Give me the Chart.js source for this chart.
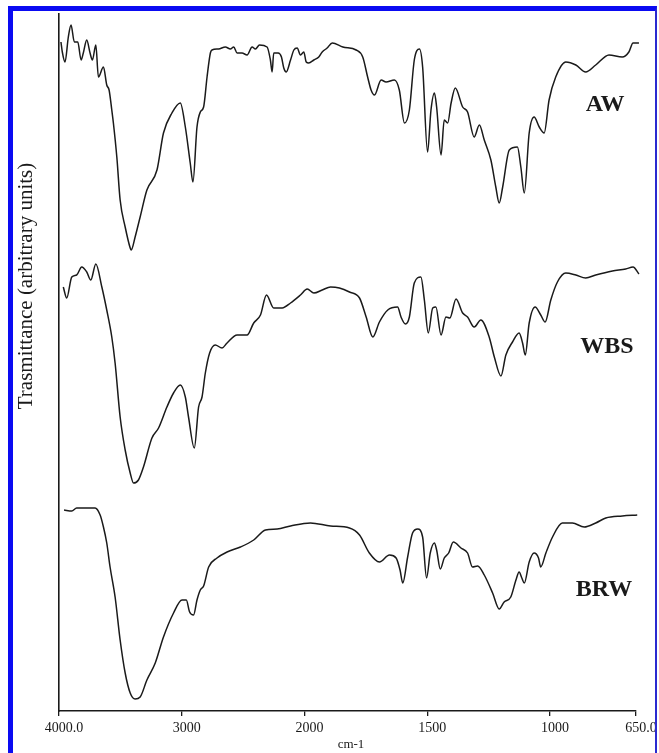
<!DOCTYPE html>
<html>
<head>
<meta charset="utf-8">
<title>FTIR spectra</title>
<script src="https://cdn.jsdelivr.net/npm/chart.js@4.4.1/dist/chart.umd.min.js"></script>
<style>
  html, body { margin: 0; padding: 0; background: #ffffff; }
  #wrap { position: relative; width: 659px; height: 753px; overflow: hidden; }
  #spectra { position: absolute; left: 0; top: 0; }
  #frame {
    position: absolute; left: 8px; top: 6px; width: 642px; height: 800px;
    border-top: 5px solid #0a0af2; border-left: 5px solid #0a0af2; border-right: 2px solid #2a2ad0;
    pointer-events: none;
  }
</style>
</head>
<body>
<div id="wrap">
  <canvas id="spectra" width="659" height="753"></canvas>
  <div id="frame"></div>
</div>
<script>
// Spectra: wavenumber (cm-1) and transmittance (arbitrary units, stacked)
const awWavenumber = [3984,3973,3951,3924,3902,3875,3847,3820,3802,3774,3747,3728,3700,3679,3638,3611,3592,3570,3557,3529,3502,3461,3420,3412,3380,3339,3284,3202,3149,3080,3012,2971,2931,2909,2876,2849,2822,2794,2767,2754,2700,2645,2604,2577,2549,2509,2468,2427,2400,2367,2305,2278,2264,2251,2215,2188,2169,2149,2114,2087,2060,2033,2006,1993,1983,1962,1942,1928,1908,1887,1844,1790,1763,1743,1729,1715,1688,1668,1634,1614,1593,1573,1553,1532,1519,1499,1485,1471,1462,1444,1431,1417,1403,1386,1356,1336,1309,1288,1268,1241,1221,1207,1193,1166,1133,1119,1105,1085,1065,1044,1024,1004,977,936,895,855,814,760,706,679,662,638];
const awTransmittance = [669,659,649,674,686,669,669,651,658,671,658,651,666,634,644,626,621,601,588,554,511,484,463,461,474,494,521,541,578,598,608,584,548,529,584,599,604,634,658,661,662,664,662,664,658,658,656,664,662,666,664,651,639,658,658,654,643,639,651,661,663,656,659,649,648,651,654,659,663,668,664,661,654,634,621,616,631,629,631,621,588,601,651,662,644,559,601,618,604,556,591,588,608,623,604,599,574,586,571,551,524,508,524,561,564,544,518,578,594,584,578,611,634,649,646,639,646,656,654,659,668,668];

const wbsWavenumber = [3965,3937,3896,3856,3815,3774,3741,3700,3651,3611,3570,3543,3502,3461,3420,3393,3353,3312,3243,3189,3121,3067,3012,2971,2945,2898,2863,2835,2808,2773,2727,2672,2631,2549,2468,2414,2359,2310,2251,2182,2114,2033,1989,1962,1928,1894,1858,1817,1776,1749,1722,1695,1661,1621,1607,1589,1573,1553,1526,1512,1496,1478,1465,1444,1424,1408,1383,1356,1336,1309,1282,1248,1227,1200,1180,1153,1126,1112,1101,1085,1061,1038,1020,997,970,936,895,855,814,746,692,662,638];
const wbsTransmittance = [424,413,434,436,444,439,431,447,424,401,374,348,294,261,238,228,231,244,273,283,304,318,326,314,294,263,304,314,338,358,366,363,368,376,376,388,396,416,403,403,408,416,422,418,421,424,423,419,413,394,374,389,401,404,394,387,394,428,434,411,378,403,404,376,394,393,412,398,394,384,391,374,354,335,356,369,378,368,356,388,404,396,389,411,429,438,436,433,436,440,442,444,437];

const brwWavenumber = [3959,3896,3856,3774,3706,3665,3638,3611,3584,3543,3502,3461,3420,3380,3339,3284,3216,3149,3067,2998,2963,2936,2904,2876,2849,2822,2781,2713,2631,2522,2414,2318,2223,2114,1976,1894,1817,1776,1736,1695,1654,1627,1611,1600,1580,1560,1539,1519,1503,1488,1471,1462,1447,1431,1413,1394,1363,1336,1316,1295,1268,1234,1207,1187,1160,1139,1126,1115,1105,1085,1065,1047,1038,1017,990,950,909,861,814,773,706,645];
const brwTransmittance = [201,200,203,203,203,196,184,168,144,114,71,38,18,12,14,31,48,74,98,111,111,99,96,111,121,125,144,153,159,164,171,181,182,185,188,185,183,176,158,149,156,153,141,128,154,178,182,174,133,158,168,161,142,153,158,169,163,158,144,145,136,118,102,109,114,131,139,133,128,149,158,153,144,158,174,188,188,184,188,193,195,196];

const sampleNames = ['AW', 'WBS', 'BRW'];
const tickWavenumbers = [4000, 3000, 2000, 1500, 1000, 650];
const tickLabels = ['4000.0', '3000', '2000', '1500', '1000', '650.0'];

// The instrument plots 4000-2000 cm-1 at half the scale of 2000-650 cm-1.
function axisPos(w) {
  return w >= 2000 ? 4000 - w : 2000 + 2 * (2000 - w);
}

function series(ws, ts) {
  return ws.map((w, i) => ({ x: axisPos(w), y: ts[i] }));
}

const serif = '"Liberation Serif", "Times New Roman", serif';
const ink = '#1a1a1a';

const textPlugin = {
  id: 'spectrumText',
  afterDatasetsDraw(chart, args, opts) {
    const { ctx, scales } = chart;
    const xs = scales.x, ys = scales.y;
    ctx.save();
    ctx.fillStyle = ink;
    // sample labels beside each trace
    ctx.font = 'bold 24px ' + serif;
    ctx.textAlign = 'center';
    ctx.textBaseline = 'middle';
    opts.labels.forEach((lab, i) => {
      ctx.fillText(sampleNames[i], xs.getPixelForValue(axisPos(lab.at)), ys.getPixelForValue(lab.level));
    });
    // x axis unit
    ctx.font = '13px ' + serif;
    ctx.fillText('cm-1', opts.xTitle.x, opts.xTitle.y);
    // y axis title
    ctx.translate(opts.yTitle.x, opts.yTitle.y);
    ctx.rotate(-Math.PI / 2);
    ctx.font = '21px ' + serif;
    ctx.fillText('Trasmittance (arbitrary units)', 0, 0);
    ctx.restore();
  }
};

const lineStyle = {
  borderColor: ink,
  borderWidth: 1.5,
  pointRadius: 0,
  fill: false,
  cubicInterpolationMode: 'monotone',
  clip: 8
};

new Chart(document.getElementById('spectra'), {
  type: 'line',
  data: {
    datasets: [
      Object.assign({ label: sampleNames[0], data: series(awWavenumber, awTransmittance) }, lineStyle),
      Object.assign({ label: sampleNames[1], data: series(wbsWavenumber, wbsTransmittance) }, lineStyle),
      Object.assign({ label: sampleNames[2], data: series(brwWavenumber, brwTransmittance) }, lineStyle)
    ]
  },
  options: {
    responsive: false,
    animation: false,
    devicePixelRatio: 1,
    layout: { padding: { left: 59, top: 14, right: 23, bottom: 0 } },
    plugins: {
      legend: { display: false },
      tooltip: { enabled: false },
      spectrumText: {
        labels: [ { at: 776, level: 606 }, { at: 768, level: 364 }, { at: 780, level: 121 } ],
        xTitle: { x: 351, y: 745 },
        yTitle: { x: 26, y: 286 }
      }
    },
    scales: {
      x: {
        type: 'linear',
        min: 0,
        max: axisPos(650),
        afterFit(scale) { scale.height = 42; },
        afterBuildTicks(scale) {
          scale.ticks = tickWavenumbers.map(w => ({ value: axisPos(w) }));
        },
        ticks: {
          autoSkip: false,
          maxRotation: 0,
          padding: 4,
          labelOffset: 5,
          color: ink,
          font: { family: serif, size: 14 },
          callback(value) {
            const i = tickWavenumbers.findIndex(w => axisPos(w) === value);
            return i >= 0 ? tickLabels[i] : '';
          }
        },
        grid: { display: true, drawOnChartArea: false, drawTicks: true, tickLength: 5, color: ink, lineWidth: 1.3 },
        border: { display: true, color: ink, width: 1.6 }
      },
      y: {
        min: 0,
        max: 697,
        afterFit(scale) { scale.width = 0; },
        ticks: { display: false },
        grid: { display: false },
        border: { display: true, color: ink, width: 1.6 }
      }
    }
  },
  plugins: [textPlugin]
});
</script>
</body>
</html>
